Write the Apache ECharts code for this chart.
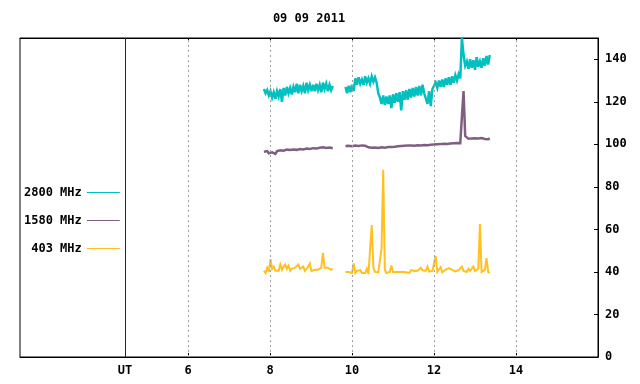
<!DOCTYPE html>
<html>
<head>
<meta charset="utf-8">
<script src="https://cdn.jsdelivr.net/npm/echarts@6/dist/echarts.min.js"></script>
<style>
  html, body { margin: 0; padding: 0; background: #fff; }
  #chart { width: 640px; height: 384px; }
</style>
</head>
<body>
<div id="chart"></div>
<script>
// sampling grid of the two recording segments (UT hours)
const seg1Start = 7.85;
const seg2Start = 9.84;
const sampleStep = 0.04;

const xTicks = [6, 8, 10, 12, 14];
const utLine = 4.46;
const seriesNames = ["2800 MHz", "1580 MHz", "403 MHz"];

const f2800seg1 = [126, 124, 125.5, 123, 125, 122, 124.5, 121.5, 125, 122.5,
  126, 120, 126.5, 123, 127, 124, 126.5, 123.5, 127, 124.5,
  128.5, 124, 128, 125, 127.5, 124, 129, 125.5, 128, 125,
  128, 125, 128.5, 125.5, 128, 124.5, 129, 126, 128.5, 125, 128, 125.5, 127.5];
const f2800seg2 = [127, 124, 127.5, 124.5, 128, 125,
  131, 128, 131.5, 128.5, 130.5, 128, 132, 129, 131, 128.5, 132, 129.5, 131.5, 129, 124,
  122, 119, 123, 118.5, 122.5, 119, 123, 117, 123.5, 119.5, 124, 120, 124.5, 116,
  125, 121, 125.5, 121, 126, 122, 126.5, 122.5, 127, 123, 127.5, 123, 128, 124,
  124, 119, 125, 118, 126,
  126, 129, 126.5, 130, 127, 130.5, 127, 131, 128, 131.5, 128, 132, 129, 132.5, 130, 133, 131, 150,
  142, 137,
  139, 135.5, 140, 136, 139.5, 135, 141, 136.5, 139, 136, 140.5, 137, 141.5, 137.5, 142];

const f1580seg1 = [96.5, 96, 96.8, 95.8, 96.6, 96.2, 97, 95.5, 96.8, 96.3,
  97.2, 96.4, 97, 96.6, 97.5, 96.8, 97.3, 96.7, 97.6, 97,
  97.4, 96.9, 97.8, 97.2, 97.6, 97.1, 98, 97.4, 97.8, 97.3,
  98.2, 97.6, 98, 97.5, 98.4, 97.8, 98.6, 97.9, 98.3, 97.8, 98.5, 98, 98.2];
const f1580seg2 = [99.2, 98.8, 99.3, 98.9, 99.1, 98.7, 99.4, 98.9, 99.2, 98.8, 99.5, 99, 99.3, 98.9,
  98.6, 97.9, 98.4, 97.6, 98.5, 97.8, 98.3, 97.5, 98.6, 98, 98.4, 97.7, 98.7, 98.1, 98.8, 98.2, 98.9,
  98.5, 99.1, 98.6, 99.2, 98.7, 99.3, 98.9, 99.4, 98.8, 99.5, 99, 99.3, 98.7, 99.6, 99.1, 99.5, 99, 99.7, 99.2, 99.6,
  99.1, 99.8, 99.3, 99.9, 99.4, 100, 99.5, 100.1, 99.6, 100.3, 99.7, 100.2, 99.8, 100.4, 99.9, 100.5, 100, 100.6, 100.1, 100.5,
  113, 125, 104,
  103.2, 102.6, 103.4, 102.8, 103.5, 102.9, 103.3, 102.7, 103.6, 103, 103.2, 102.5, 103.1, 102.4, 102.8];

const f403seg1 = [40.5, 39.5, 42, 40, 46, 41.5, 42.5, 40.5, 41, 40.5,
  43.5, 41, 42.5, 43.5, 41.5, 43, 40.5, 41.5, 41, 42,
  41.5, 43.5, 41.5, 41, 42.5, 40.5, 41.5, 42.5, 44, 40.5,
  40.5, 41, 40.5, 41, 41.5, 42, 49, 42, 41.5, 42, 41.5, 41, 41.5];
const f403seg2 = [40, 39.5, 40, 39.8, 39.5, 44,
  39.5, 40.5, 40, 40.8, 39.5, 39, 39.5, 41.5, 39, 39.5,
  62, 42, 40, 40.3, 39.8, 40, 51, 88, 41,
  39.5, 39.8, 40, 43, 40, 40.3, 40, 40.5, 40,
  39.5, 40, 39.2, 39.8, 40.2, 39.5, 40.8, 41, 40.5, 41.2, 40.6,
  41, 42, 40.8, 41.2, 40.5, 42.5, 40.2, 41, 40.5, 41,
  47.5, 40, 39.5, 42.3, 39.8, 40.5,
  41, 40.5, 41.8, 42, 41, 40.5, 40.2, 41, 40.8, 41.5,
  42.5, 40.5, 41, 40, 41.5, 40.5, 41.5, 42.5, 40.5, 41,
  41.5, 62.5, 40, 39.5, 41, 46.5, 40, 39.5];

function pairs(seg1, seg2) {
  const a = seg1.map((v, i) => [+(seg1Start + i * sampleStep).toFixed(2), v]);
  const b = seg2.map((v, i) => [+(seg2Start + i * sampleStep).toFixed(2), v]);
  return a.concat([[9.7, "-"]], b);
}

const font = "'DejaVu Sans Mono', monospace";
const colors = ["#00c0c0", "#7f5f80", "#ffc020"];
const chart = echarts.init(document.getElementById("chart"));

const lineSeries = (name, data, color, width, extra) => Object.assign({
  name,
  type: "line",
  data,
  symbol: "none",
  showSymbol: false,
  connectNulls: false,
  lineStyle: { color, width, join: "miter", miterLimit: 4 },
  itemStyle: { color },
  emphasis: { disabled: true },
  z: 3,
}, extra || {});

chart.setOption({
  animation: false,
  backgroundColor: "#fff",
  textStyle: { fontFamily: font },
  grid: { left: 20, right: 42, top: 38, bottom: 27, show: true, borderColor: "#000", borderWidth: 1 },
  graphic: [{
    type: "text", x: 309, y: 19,
    style: { text: "09 09 2011", font: "bold 12px " + font, fill: "#000", textAlign: "center", textVerticalAlign: "middle" },
  }],
  legend: {
    orient: "vertical",
    left: 24, top: 185.5,
    padding: 0,
    align: "right",
    icon: "rect",
    itemWidth: 33, itemHeight: 1, itemGap: 14,
    data: seriesNames,
    formatter: (n) => n.padStart(8, " "),
    textStyle: { fontFamily: font, fontWeight: "bold", fontSize: 12, color: "#000", lineHeight: 14 },
    selectedMode: false,
  },
  xAxis: [{
    type: "value", min: 1.9, max: 16, position: "bottom",
    axisLine: { lineStyle: { color: "#000" } },
    axisTick: { inside: true, length: 4, customValues: xTicks, lineStyle: { color: "#000" } },
    axisLabel: {
      customValues: [utLine].concat(xTicks), margin: 8,
      fontFamily: font, fontWeight: "bold", fontSize: 12, color: "#000",
      formatter: (v) => (Math.abs(v - utLine) < 0.01 ? "UT" : String(v)),
    },
    splitLine: { show: false },
  }, {
    type: "value", min: 1.9, max: 16, position: "top",
    axisLine: { lineStyle: { color: "#000" } },
    axisTick: { inside: true, length: 4, customValues: xTicks, lineStyle: { color: "#000" } },
    axisLabel: { show: false },
    splitLine: { show: false },
  }],
  yAxis: {
    type: "value", min: 0, max: 150, interval: 20, position: "right",
    axisLine: { show: true, lineStyle: { color: "#000" } },
    axisTick: { show: true, inside: true, length: 4, lineStyle: { color: "#000" } },
    axisLabel: { showMaxLabel: false, margin: 7, fontFamily: font, fontWeight: "bold", fontSize: 12, color: "#000" },
    splitLine: { show: false },
  },
  series: [
    lineSeries(seriesNames[2], pairs(f403seg1, f403seg2), colors[2], 2, {
      markLine: {
        silent: true, symbol: "none", label: { show: false },
        data: xTicks.map((v) => ({ xAxis: v, lineStyle: { color: "#a0a0a0", type: [2, 3], width: 1 } }))
          .concat([{ xAxis: utLine, lineStyle: { color: "#800000", type: "solid", width: 1 } }]),
      },
    }),
    lineSeries(seriesNames[1], pairs(f1580seg1, f1580seg2), colors[1], 2.5),
    lineSeries(seriesNames[0], pairs(f2800seg1, f2800seg2), colors[0], 2.5),
  ],
});
</script>
</body>
</html>
